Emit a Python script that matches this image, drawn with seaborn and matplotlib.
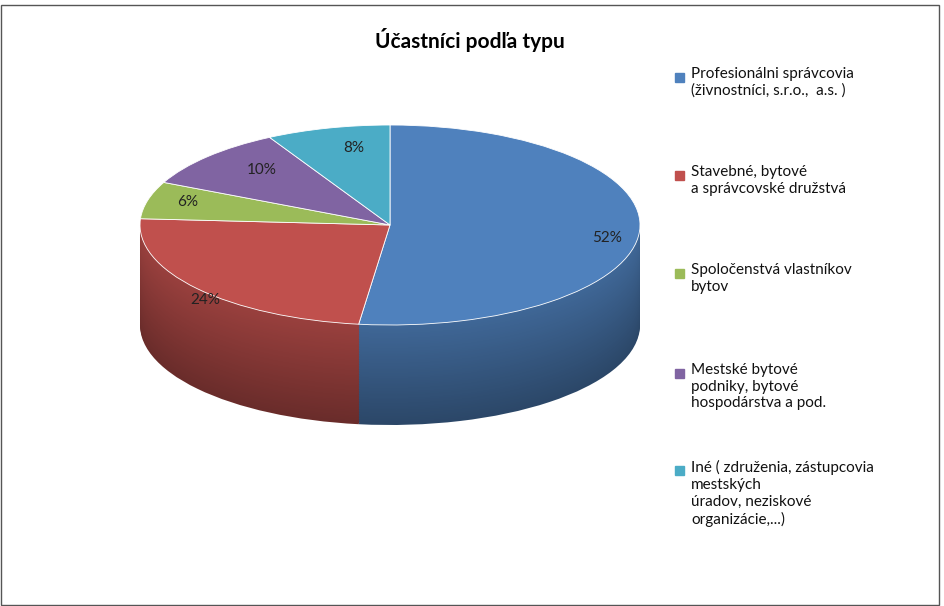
import matplotlib
matplotlib.use("Agg")
import matplotlib.pyplot as plt
import seaborn as sns
import numpy as np
from matplotlib.colors import to_rgb

sns.set_theme(style="white")
plt.rcParams['font.family'] = ['Lato', 'DejaVu Sans']

categories = ["Profesionálni správcovia\n(živnostníci, s.r.o.,  a.s. )",
              "Stavebné, bytové\na správcovské družstvá",
              "Spoločenstvá vlastníkov\nbytov",
              "Mestské bytové\npodniky, bytové\nhospodárstva a pod.",
              "Iné ( združenia, zástupcovia\nmestských\núradov, neziskové\norganizácie,...)"]
values = [52, 24, 6, 10, 8]
pct_labels = ["52%", "24%", "6%", "10%", "8%"]
colors = ["#4F81BD", "#C0504D", "#9BBB59", "#8064A2", "#4BACC6"]

W, H = 944, 606
fig = plt.figure(figsize=(W/100, H/100), dpi=100)
fig.patch.set_facecolor("white")

# pie axes: x 140..640 px, y 125..425 px
ax = fig.add_axes([140/W, 1-425/H, 500/W, 300/H])
ax.set_xlim(-1, 1); ax.set_ylim(-2, 1)
ax.axis("off")

def darker(c, f):
    r, g, b = to_rgb(c)
    return (r*f, g*f, b*f)

n = 60
for i in range(n, 0, -1):
    dy = -1.0 * i / n
    shade = 0.55 + 0.25 * (1 - i / n)
    ax.pie(values, colors=[darker(c, shade) for c in colors], startangle=90,
           counterclock=False, center=(0, dy), radius=1,
           wedgeprops=dict(linewidth=0), frame=False)
ax.pie(values, colors=colors, startangle=90, counterclock=False,
       center=(0, 0), radius=1, wedgeprops=dict(linewidth=0.6, edgecolor="white"),
       frame=False)
ax.set_aspect("auto")
ax.set_xlim(-1, 1); ax.set_ylim(-2, 1)

pct_pos = [(607, 238), (205, 300), (188, 202), (262, 170), (354, 148)]
for (x, y), t in zip(pct_pos, pct_labels):
    fig.text(x/W, 1-y/H, t, fontsize=11, ha="center", va="center", color="#222222")

fig.text(470/W, 1-40/H, "Účastníci podľa typu", fontsize=15, fontweight="bold",
         ha="center", va="center", color="black")

leg_y = [77, 175, 273, 373, 470]
for y, lab, c in zip(leg_y, categories, colors):
    fig.patches.append(plt.Rectangle((675/W, 1-(y+5)/H), 9/W, 9/H,
                                     transform=fig.transFigure, color=c))
    fig.text(691/W, 1-(y-10)/H, lab, fontsize=11, ha="left", va="top",
             color="#111111", linespacing=1.25)

fig.patches.append(plt.Rectangle((1/W, 1/H), (W-6)/W, (H-6)/H, transform=fig.transFigure,
                                 fill=False, edgecolor="#555555", linewidth=1))
fig.savefig("out.png", dpi=100)
